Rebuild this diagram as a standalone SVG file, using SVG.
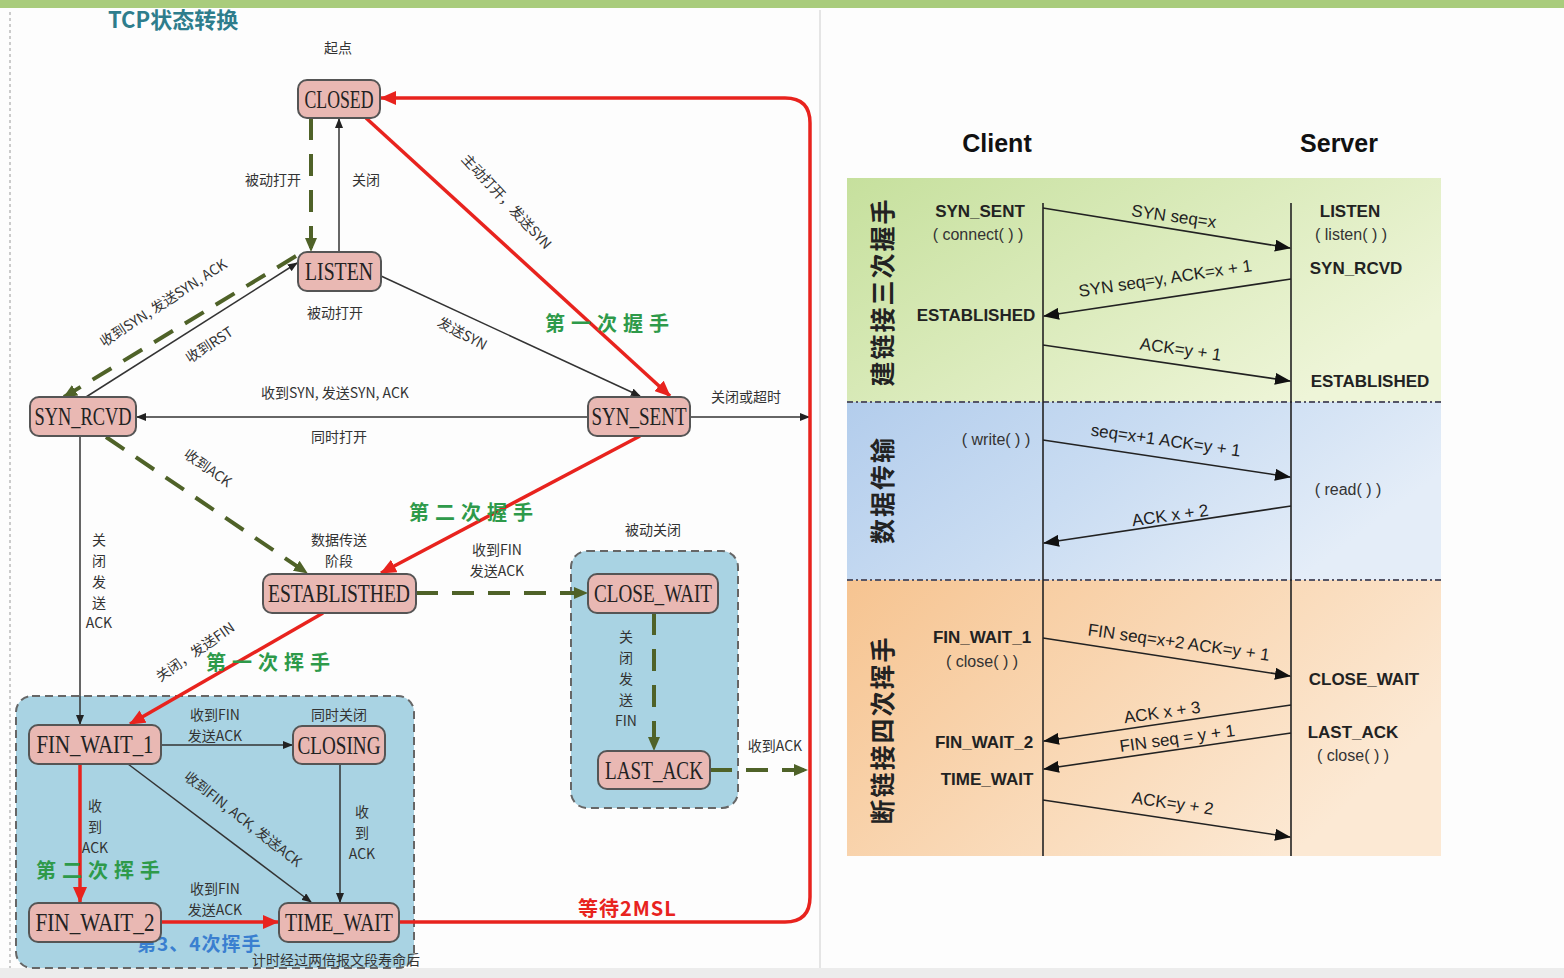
<svg xmlns="http://www.w3.org/2000/svg" width="1564" height="978" viewBox="0 0 1564 978">
<defs>
<style>
.nr{fill:#e9b8b3;stroke:#555;stroke-width:2}
.nt{font-family:"Liberation Serif",serif;font-size:25px;fill:#222;text-anchor:middle}
.lb{font-family:"Noto Sans CJK SC","Liberation Serif",sans-serif;font-size:14px;fill:#333;text-anchor:middle}
.thin{stroke:#333;stroke-width:1.5;fill:none;marker-end:url(#ab)}
.gd{stroke:#4f6228;stroke-width:4;stroke-dasharray:22 14;fill:none;marker-end:url(#ag)}
.rd{stroke:#e8231e;stroke-width:3.5;fill:none;marker-end:url(#ar)}
.hs{font-family:"Noto Sans CJK SC",sans-serif;font-size:20px;font-weight:bold;fill:#2e9a4a;letter-spacing:6px}
.grp{fill:#a9d3e3;stroke:#666;stroke-width:2;stroke-dasharray:8 5}
.st{font-family:"Liberation Sans",Arial,sans-serif;font-size:17px;font-weight:bold;fill:#222;text-anchor:middle}
.fn{font-family:"Liberation Sans",Arial,sans-serif;font-size:16px;fill:#333;text-anchor:middle}
.ml{font-family:"Liberation Sans",Arial,sans-serif;font-size:17px;fill:#222;text-anchor:middle}
.msg{stroke:#222;stroke-width:1.6;fill:none;marker-end:url(#as)}
.life{stroke:#222;stroke-width:1.6}
.sep{stroke:#556;stroke-width:2;stroke-dasharray:6 3 2 3}
.vt{font-family:"Noto Sans CJK SC",sans-serif;font-size:25px;font-weight:bold;fill:#222;text-anchor:middle;letter-spacing:2px}
</style>
<marker id="ab" markerUnits="userSpaceOnUse" markerWidth="10" markerHeight="8" refX="9" refY="4" orient="auto"><path d="M0,0 L10,4 L0,8 z" fill="#222"/></marker>
<marker id="ag" markerUnits="userSpaceOnUse" markerWidth="14" markerHeight="12" refX="13" refY="6" orient="auto"><path d="M0,0 L14,6 L0,12 z" fill="#4f6228"/></marker>
<marker id="ar" markerUnits="userSpaceOnUse" markerWidth="16" markerHeight="14" refX="15" refY="7" orient="auto"><path d="M0,0 L16,7 L0,14 z" fill="#e8231e"/></marker>
<marker id="as" markerUnits="userSpaceOnUse" markerWidth="16" markerHeight="12" refX="15" refY="6" orient="auto"><path d="M0,0 L16,6 L0,12 z" fill="#111"/></marker>
<linearGradient id="gG" x1="0" y1="0" x2="1" y2="0.6"><stop offset="0" stop-color="#c6e09d"/><stop offset="1" stop-color="#eef5d8"/></linearGradient>
<linearGradient id="gB" x1="0" y1="0" x2="1" y2="0.4"><stop offset="0" stop-color="#b3cdec"/><stop offset="0.5" stop-color="#c9dcf2"/><stop offset="1" stop-color="#e4edf8"/></linearGradient>
<linearGradient id="gO" x1="0" y1="0" x2="1" y2="0.5"><stop offset="0" stop-color="#f6c491"/><stop offset="1" stop-color="#fce9d4"/></linearGradient>
</defs>
<rect x="0" y="0" width="1564" height="978" fill="#fdfdfd"/>
<rect x="0" y="0" width="1564" height="8" fill="#a9cc7c"/>
<line x1="10" y1="12" x2="10" y2="968" stroke="#bbb" stroke-width="1.5" stroke-dasharray="3 3"/>
<line x1="820" y1="10" x2="820" y2="968" stroke="#ddd" stroke-width="1.5"/>
<rect x="0" y="968" width="1564" height="10" fill="#ececec"/>
<text x="108" y="28" font-family="Noto Sans CJK SC,sans-serif" font-size="22" font-weight="bold" fill="#2e7d8c">TCP状态转换</text>
<text class="lb" x="338" y="53">起点</text>

<g id="groups">
<rect class="grp" x="16" y="696" width="398" height="272" rx="16"/>
<rect class="grp" x="571" y="551" width="167" height="257" rx="16"/>
</g>

<g id="connectors">
<line class="gd" x1="311" y1="118" x2="311" y2="251"/>
<line class="thin" x1="339" y1="252" x2="339" y2="119"/>
<line class="rd" x1="366" y1="118" x2="670" y2="396"/>
<line class="thin" x1="381" y1="276" x2="640" y2="396"/>
<line class="thin" x1="86" y1="397" x2="297" y2="263"/>
<line class="gd" x1="296" y1="256" x2="64" y2="397"/>
<line class="thin" x1="588" y1="417" x2="137" y2="417"/>
<line class="thin" x1="690" y1="417" x2="809" y2="417"/>
<line class="gd" x1="106" y1="437" x2="307" y2="573"/>
<line class="rd" x1="640" y1="436" x2="381" y2="573"/>
<line class="gd" x1="416" y1="593" x2="587" y2="593"/>
<line class="gd" x1="654" y1="613" x2="654" y2="750"/>
<line class="gd" x1="710" y1="770" x2="807" y2="770"/>
<line class="rd" x1="323" y1="613" x2="130" y2="724"/>
<line class="thin" x1="80" y1="436" x2="80" y2="724"/>
<line class="thin" x1="161" y1="745" x2="292" y2="745"/>
<line class="thin" x1="128" y1="764" x2="311" y2="902"/>
<line class="thin" x1="340" y1="764" x2="340" y2="902"/>
<line class="rd" x1="80" y1="764" x2="80" y2="902"/>
<line class="rd" x1="161" y1="922" x2="278" y2="922"/>
<path class="rd" d="M399,922 L785,922 Q810,922 810,897 L810,123 Q810,98 785,98 L381,98"/>
</g>

<g id="labels">
<text class="lb" x="273" y="185">被动打开</text>
<text class="lb" x="366" y="185">关闭</text>
<text class="lb" x="335" y="318">被动打开</text>
<text class="lb" transform="translate(503,205) rotate(47)">主动打开，发送SYN</text>
<text class="lb" transform="translate(460,338) rotate(28)">发送SYN</text>
<text class="lb" transform="translate(166,307) rotate(-33)">收到SYN, 发送SYN, ACK</text>
<text class="lb" transform="translate(212,349) rotate(-33)">收到RST</text>
<text class="lb" x="335" y="398">收到SYN, 发送SYN, ACK</text>
<text class="lb" x="339" y="442">同时打开</text>
<text class="lb" x="746" y="402">关闭或超时</text>
<text class="lb" transform="translate(205,472) rotate(35)">收到ACK</text>
<text class="lb" x="339" y="545">数据传送</text>
<text class="lb" x="339" y="566">阶段</text>
<text class="lb" x="497" y="555">收到FIN</text>
<text class="lb" x="497" y="576">发送ACK</text>
<text class="lb" x="653" y="535">被动关闭</text>
<text class="lb" x="626" y="642">关</text>
<text class="lb" x="626" y="663">闭</text>
<text class="lb" x="626" y="684">发</text>
<text class="lb" x="626" y="705">送</text>
<text class="lb" x="626" y="726">FIN</text>
<text class="lb" x="775" y="751">收到ACK</text>
<text class="lb" transform="translate(198,656) rotate(-35)">关闭，发送FIN</text>
<text class="lb" x="99" y="545">关</text>
<text class="lb" x="99" y="566">闭</text>
<text class="lb" x="99" y="587">发</text>
<text class="lb" x="99" y="608">送</text>
<text class="lb" x="99" y="628">ACK</text>
<text class="lb" x="215" y="720">收到FIN</text>
<text class="lb" x="215" y="741">发送ACK</text>
<text class="lb" x="339" y="720">同时关闭</text>
<text class="lb" transform="translate(240,823) rotate(38)">收到FIN, ACK, 发送ACK</text>
<text class="lb" x="362" y="817">收</text>
<text class="lb" x="362" y="838">到</text>
<text class="lb" x="362" y="859">ACK</text>
<text class="lb" x="95" y="811">收</text>
<text class="lb" x="95" y="832">到</text>
<text class="lb" x="95" y="853">ACK</text>
<text class="lb" x="215" y="894">收到FIN</text>
<text class="lb" x="215" y="915">发送ACK</text>
<text class="lb" x="336" y="965" font-size="12">计时经过两倍报文段寿命后</text>
<text class="hs" x="545" y="331">第一次握手</text>
<text class="hs" x="409" y="520">第二次握手</text>
<text class="hs" x="206" y="670">第一次挥手</text>
<text class="hs" x="36" y="878">第二次挥手</text>
<text class="hs" x="137" y="951" style="fill:#3a7fd0;letter-spacing:1px;font-size:19px">第3、4次挥手</text>
<text class="hs" x="578" y="916" style="fill:#e8231e;letter-spacing:1px">等待2MSL</text>
</g>

<g id="n-closed"><rect class="nr" x="298" y="80" width="82" height="38" rx="9"/><text class="nt" x="339" y="108" textLength="69" lengthAdjust="spacingAndGlyphs">CLOSED</text></g>
<g id="n-listen"><rect class="nr" x="298" y="252" width="83" height="39" rx="9"/><text class="nt" x="339" y="280" textLength="68" lengthAdjust="spacingAndGlyphs">LISTEN</text></g>
<g id="n-synrcvd"><rect class="nr" x="30" y="397" width="106" height="39" rx="9"/><text class="nt" x="83" y="425" textLength="97" lengthAdjust="spacingAndGlyphs">SYN_RCVD</text></g>
<g id="n-synsent"><rect class="nr" x="588" y="397" width="102" height="39" rx="9"/><text class="nt" x="639" y="425" textLength="95" lengthAdjust="spacingAndGlyphs">SYN_SENT</text></g>
<g id="n-established"><rect class="nr" x="263" y="574" width="153" height="39" rx="9"/><text class="nt" x="339" y="602" textLength="142" lengthAdjust="spacingAndGlyphs">ESTABLISTHED</text></g>
<g id="n-closewait"><rect class="nr" x="588" y="574" width="130" height="39" rx="9"/><text class="nt" x="653" y="602" textLength="118" lengthAdjust="spacingAndGlyphs">CLOSE_WAIT</text></g>
<g id="n-lastack"><rect class="nr" x="598" y="751" width="112" height="38" rx="9"/><text class="nt" x="654" y="779" textLength="98" lengthAdjust="spacingAndGlyphs">LAST_ACK</text></g>
<g id="n-finwait1"><rect class="nr" x="29" y="725" width="132" height="39" rx="9"/><text class="nt" x="95" y="753" textLength="117" lengthAdjust="spacingAndGlyphs">FIN_WAIT_1</text></g>
<g id="n-closing"><rect class="nr" x="293" y="726" width="92" height="38" rx="9"/><text class="nt" x="339" y="754" textLength="83" lengthAdjust="spacingAndGlyphs">CLOSING</text></g>
<g id="n-finwait2"><rect class="nr" x="29" y="903" width="132" height="39" rx="9"/><text class="nt" x="95" y="931" textLength="119" lengthAdjust="spacingAndGlyphs">FIN_WAIT_2</text></g>
<g id="n-timewait"><rect class="nr" x="279" y="903" width="120" height="39" rx="9"/><text class="nt" x="339" y="931" textLength="108" lengthAdjust="spacingAndGlyphs">TIME_WAIT</text></g>

<g id="seq-bands">
<rect x="847" y="178" width="594" height="224" fill="url(#gG)"/>
<rect x="847" y="402" width="594" height="178" fill="url(#gB)"/>
<rect x="847" y="580" width="594" height="276" fill="url(#gO)"/>
<line class="sep" x1="847" y1="402" x2="1441" y2="402"/>
<line class="sep" x1="847" y1="580" x2="1441" y2="580"/>
<text class="vt" transform="translate(892,292) rotate(-90)">建链接三次握手</text>
<text class="vt" transform="translate(892,490) rotate(-90)">数据传输</text>
<text class="vt" transform="translate(892,730) rotate(-90)">断链接四次挥手</text>
</g>
<g id="seq-heads">
<text x="997" y="152" font-family="Liberation Sans,Arial,sans-serif" font-size="25" font-weight="bold" fill="#111" text-anchor="middle">Client</text>
<text x="1339" y="152" font-family="Liberation Sans,Arial,sans-serif" font-size="25" font-weight="bold" fill="#111" text-anchor="middle">Server</text>
</g>
<g id="lifelines">
<line class="life" x1="1043" y1="203" x2="1043" y2="856"/>
<line class="life" x1="1291" y1="203" x2="1291" y2="856"/>
</g>
<g id="client-states">
<text class="st" x="980" y="217">SYN_SENT</text>
<text class="fn" x="978" y="240">( connect( ) )</text>
<text class="st" x="976" y="321">ESTABLISHED</text>
<text class="fn" x="996" y="445">( write( ) )</text>
<text class="st" x="982" y="643">FIN_WAIT_1</text>
<text class="fn" x="982" y="667">( close( ) )</text>
<text class="st" x="984" y="748">FIN_WAIT_2</text>
<text class="st" x="987" y="785">TIME_WAIT</text>
</g>
<g id="server-states">
<text class="st" x="1350" y="217">LISTEN</text>
<text class="fn" x="1351" y="240">( listen( ) )</text>
<text class="st" x="1356" y="274">SYN_RCVD</text>
<text class="st" x="1370" y="387">ESTABLISHED</text>
<text class="fn" x="1348" y="495">( read( ) )</text>
<text class="st" x="1364" y="685">CLOSE_WAIT</text>
<text class="st" x="1353" y="738">LAST_ACK</text>
<text class="fn" x="1353" y="761">( close( ) )</text>
</g>
<g id="messages">
<line class="msg" x1="1043" y1="208" x2="1290" y2="248"/>
<line class="msg" x1="1291" y1="279" x2="1044" y2="316"/>
<line class="msg" x1="1043" y1="345" x2="1290" y2="381"/>
<line class="msg" x1="1043" y1="440" x2="1290" y2="477"/>
<line class="msg" x1="1291" y1="506" x2="1044" y2="543"/>
<line class="msg" x1="1043" y1="638" x2="1290" y2="676"/>
<line class="msg" x1="1291" y1="705" x2="1044" y2="741"/>
<line class="msg" x1="1291" y1="733" x2="1044" y2="769"/>
<line class="msg" x1="1043" y1="800" x2="1290" y2="837"/>
<text class="ml" transform="translate(1173,222) rotate(8)">SYN seq=x</text>
<text class="ml" transform="translate(1166,284) rotate(-8.5)">SYN seq=y, ACK=x + 1</text>
<text class="ml" transform="translate(1180,355) rotate(8)">ACK=y + 1</text>
<text class="ml" transform="translate(1165,446) rotate(8)">seq=x+1 ACK=y + 1</text>
<text class="ml" transform="translate(1171,521) rotate(-8)">ACK x + 2</text>
<text class="ml" transform="translate(1178,648) rotate(8)">FIN seq=x+2 ACK=y + 1</text>
<text class="ml" transform="translate(1163,718) rotate(-8)">ACK x + 3</text>
<text class="ml" transform="translate(1178,744) rotate(-8)">FIN seq = y + 1</text>
<text class="ml" transform="translate(1172,809) rotate(8)">ACK=y + 2</text>
</g>
</svg>
